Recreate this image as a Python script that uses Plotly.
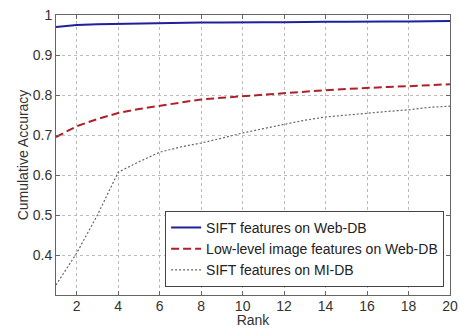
import plotly.graph_objects as go

rank = list(range(1, 21))
sift_web = [0.970, 0.975, 0.977, 0.978, 0.979, 0.980, 0.980, 0.981, 0.981, 0.982,
            0.982, 0.982, 0.983, 0.983, 0.983, 0.984, 0.984, 0.984, 0.985, 0.985]
low_web = [0.695, 0.722, 0.740, 0.755, 0.765, 0.773, 0.782, 0.789, 0.793, 0.797,
           0.801, 0.805, 0.809, 0.812, 0.815, 0.818, 0.820, 0.822, 0.825, 0.827]
sift_mi = [0.325, 0.405, 0.500, 0.607, 0.633, 0.657, 0.670, 0.680, 0.692, 0.705,
           0.716, 0.727, 0.737, 0.745, 0.750, 0.755, 0.759, 0.763, 0.769, 0.772]
names = ["SIFT features on Web-DB", "Low-level image features on Web-DB", "SIFT features on MI-DB"]
x_ticks = [2, 4, 6, 8, 10, 12, 14, 16, 18, 20]
y_ticks = [0.4, 0.5, 0.6, 0.7, 0.8, 0.9, 1.0]
y_labels = ["0.4", "0.5", "0.6", "0.7", "0.8", "0.9", "1"]

FONT = "Arial, Liberation Sans, sans-serif"

fig = go.Figure()
fig.add_trace(go.Scatter(x=rank, y=sift_web, mode="lines", name=names[0],
                         line=dict(color="#20209a", width=2)))
fig.add_trace(go.Scatter(x=rank, y=low_web, mode="lines", name=names[1],
                         line=dict(color="#b0202a", width=2, dash="8px,4px")))
fig.add_trace(go.Scatter(x=rank, y=sift_mi, mode="lines", name=names[2],
                         line=dict(color="#666666", width=1.2, dash="2px,2px")))

axis_common = dict(showgrid=True, gridcolor="#bbbbbb", griddash="dot", gridwidth=1,
                   showline=True, linecolor="#666666", linewidth=1, mirror="ticks",
                   ticks="inside", ticklen=4, tickcolor="#666666", zeroline=False,
                   ticklabeloverflow="allow", automargin=False,
                   tickfont=dict(family=FONT, size=14, color="#333333"))

fig.update_xaxes(range=[1, 20], tickvals=x_ticks, ticklabelstandoff=-2, **axis_common,
                 title=dict(text="Rank", standoff=2,
                            font=dict(family=FONT, size=14, color="#333333")))
fig.update_yaxes(range=[0.3, 1.0], tickvals=y_ticks, ticktext=y_labels, **axis_common,
                 title=dict(text="Cumulative Accuracy", standoff=0,
                            font=dict(family=FONT, size=14, color="#333333")))

fig.update_layout(
    width=460, height=328,
    margin=dict(l=56, r=10, t=15, b=33),
    paper_bgcolor="white", plot_bgcolor="white",
    legend=dict(x=0.985, y=0.029, xanchor="right", yanchor="bottom",
                bgcolor="white", bordercolor="#444444", borderwidth=1,
                font=dict(family=FONT, size=14, color="#222222"),
                tracegroupgap=0, itemwidth=30),
    showlegend=True,
)

fig.write_html("out.html", config={"displayModeBar": False},
               post_script="document.body.style.margin='0';")
